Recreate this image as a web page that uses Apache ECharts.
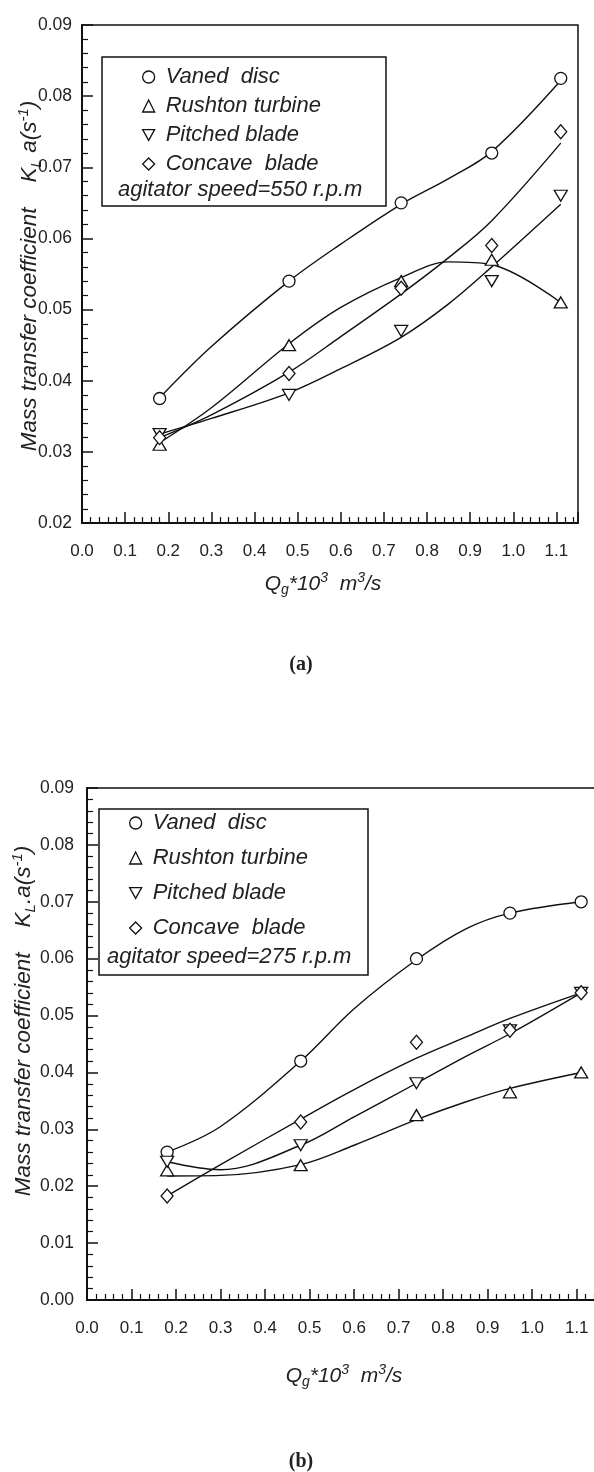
<!DOCTYPE html>
<html><head><meta charset="utf-8">
<script src="https://cdn.jsdelivr.net/npm/echarts/dist/echarts.min.js"></script>
<style>html,body{margin:0;padding:0;background:#fff}#c{width:594px;height:1472px}</style>
</head><body><div id="c"></div>
<script>
// ---- data (x: gas flow rate Qg*10^3 m3/s) ----
const qg = [0.18, 0.48, 0.74, 0.95, 1.11];
const seriesNames = ['Vaned  disc', 'Rushton turbine', 'Pitched blade', 'Concave  blade'];

// (a) 550 rpm, measured points
const topVaned   = [0.0375, 0.054, 0.065, 0.072, 0.0825];
const topRushton = [0.031, 0.045, 0.054, 0.057, 0.051];
const topPitched = [0.0325, 0.038, 0.047, 0.054, 0.066];
const topConcave = [0.032, 0.041, 0.053, 0.059, 0.075];

// (b) 275 rpm, measured points
const botVaned   = [0.026, 0.042, 0.060, 0.068, 0.070];
const botRushton = [0.0228, 0.0237, 0.0325, 0.0365, 0.040];
const botPitched = [0.0243, 0.0272, 0.0381, 0.0474, 0.054];
const botConcave = [0.0183, 0.0313, 0.0453, 0.0474, 0.054];

// fitted curves
const curveX = [0.18, 0.3, 0.48, 0.6, 0.74, 0.85, 0.95, 1.11];
const topFitVaned   = [0.0376, 0.0448, 0.0540, 0.0592, 0.0648, 0.0684, 0.0722, 0.0822];
const topFitRushton = [0.0313, 0.0362, 0.0452, 0.0503, 0.0545, 0.0567, 0.0563, 0.0510];
const topFitPitched = [0.0325, 0.0347, 0.0383, 0.0417, 0.0461, 0.0508, 0.0560, 0.0648];
const topFitConcave = [0.0320, 0.0352, 0.0412, 0.0462, 0.0522, 0.0573, 0.0625, 0.0734];
const botFitVaned   = [0.0260, 0.0305, 0.0420, 0.0512, 0.0598, 0.0652, 0.0680, 0.0700];
const botFitRushton = [0.0218, 0.0219, 0.0238, 0.0272, 0.0317, 0.0348, 0.0372, 0.0400];
const botFitPitched = [0.0243, 0.0229, 0.0272, 0.0322, 0.0381, 0.0428, 0.0468, 0.0540];
const botFitConcave = [0.0183, 0.0238, 0.0318, 0.0370, 0.0425, 0.0462, 0.0495, 0.0540];

const speedTop = 'agitator speed=550 r.p.m';
const speedBot = 'agitator speed=275 r.p.m';

// ---- styling ----
const INK = '#111', TXT = '#222', FONT = '"Liberation Sans", Arial, sans-serif';
const symbols = ['circle', 'triangle', 'path://M0,0 L10,0 L5,9 Z', 'diamond'];
const symSizes = [[12, 12], [13, 11], [13, 11], [12, 14]];
const pairs = (xs, ys) => xs.map((x, i) => [x, ys[i]]);

function xAxisCfg(gi, margin) {
  return {
    type: 'value', gridIndex: gi, min: 0, max: 1.15, interval: 0.1,
    axisLine: { show: true, onZero: false, lineStyle: { color: INK, width: 2 } },
    axisTick: { show: true, inside: true, length: 11, lineStyle: { color: INK, width: 1.5 } },
    minorTick: { show: true, splitNumber: 5, length: 6, lineStyle: { color: INK, width: 1.2 } },
    splitLine: { show: false }, minorSplitLine: { show: false },
    axisLabel: { margin, fontSize: 17, color: TXT, fontFamily: FONT, showMaxLabel: false,
      formatter: v => v.toFixed(1) }
  };
}
function yAxisCfg(gi, min, margin) {
  return {
    type: 'value', gridIndex: gi, min, max: 0.09, interval: 0.01,
    axisLine: { show: true, onZero: false, lineStyle: { color: INK, width: 2 } },
    axisTick: { show: true, inside: true, length: 11, lineStyle: { color: INK, width: 1.5 } },
    minorTick: { show: true, splitNumber: 5, length: 6, lineStyle: { color: INK, width: 1.2 } },
    splitLine: { show: false }, minorSplitLine: { show: false },
    axisLabel: { margin, fontSize: 17.5, color: TXT, fontFamily: FONT,
      formatter: v => v.toFixed(2) }
  };
}

const series = [];
function addPanel(gi, pts, fits) {
  fits.forEach((f, k) => series.push({
    type: 'line', xAxisIndex: gi, yAxisIndex: gi, data: pairs(curveX, f),
    smooth: 0.35, showSymbol: false, silent: true, z: 2,
    lineStyle: { color: INK, width: 1.4 }
  }));
  pts.forEach((p, k) => series.push({
    type: 'scatter', name: seriesNames[k], xAxisIndex: gi, yAxisIndex: gi,
    data: pairs(qg, p), symbol: symbols[k], symbolSize: symSizes[k], z: 3,
    itemStyle: { color: '#fff', borderColor: INK, borderWidth: 1.3, opacity: 1 }
  }));
}
addPanel(0, [topVaned, topRushton, topPitched, topConcave],
            [topFitVaned, topFitRushton, topFitPitched, topFitConcave]);
addPanel(1, [botVaned, botRushton, botPitched, botConcave],
            [botFitVaned, botFitRushton, botFitPitched, botFitConcave]);

const RICH = {
  n: { fontSize: 22.5, fontStyle: 'italic', fontFamily: FONT, lineHeight: 28, fill: TXT },
  sub: { fontSize: 15, fontStyle: 'italic', fontFamily: FONT, verticalAlign: 'bottom', fill: TXT },
  sup: { fontSize: 15, fontStyle: 'italic', fontFamily: FONT, verticalAlign: 'top', fill: TXT }
};
const RICHX = {
  n: { fontSize: 21, fontStyle: 'italic', fontFamily: FONT, lineHeight: 26, fill: TXT },
  sub: { fontSize: 14, fontStyle: 'italic', fontFamily: FONT, verticalAlign: 'bottom', fill: TXT },
  sup: { fontSize: 14, fontStyle: 'italic', fontFamily: FONT, verticalAlign: 'top', fill: TXT }
};
function title(x, y, text, rot, rich) {
  return { type: 'text', x, y, rotation: rot || 0, z: 10,
    style: { text, rich: rich, fill: TXT, align: 'center', verticalAlign: 'middle',
      font: 'italic 21px ' + FONT } };
}
const xTitle = '{n|Q}{sub|g}{n|*10}{sup|3}{n|  m}{sup|3}{n|/s}';
const yTitleTop = '{n|Mass transfer coefficient    K}{sub|L}{n| a(s}{sup|-1}{n|)}';
const yTitleBot = '{n|Mass transfer coefficient    K}{sub|L}{n|.a(s}{sup|-1}{n|)}';

function legendCfg(left, top, gap) {
  return {
    orient: 'vertical', left, top, padding: 0, itemGap: gap, itemWidth: 12, itemHeight: 12,
    data: seriesNames, selectedMode: false,
    itemStyle: { color: '#fff', borderColor: INK, borderWidth: 1.3 },
    textStyle: { fontFamily: FONT, fontStyle: 'italic', fontSize: 22, color: TXT,
      lineHeight: 20, padding: [0, 0, 0, 6] }
  };
}

const option = {
  animation: false,
  backgroundColor: '#fff',
  grid: [
    { left: 82, top: 25, width: 496, height: 498, show: true, borderColor: INK, borderWidth: 1.5,
      backgroundColor: 'transparent', outerBoundsMode: 'none', containLabel: false },
    { left: 87, top: 788, width: 512, height: 512, show: true, borderColor: INK, borderWidth: 1.5,
      backgroundColor: 'transparent', outerBoundsMode: 'none', containLabel: false }
  ],
  xAxis: [xAxisCfg(0, 20), xAxisCfg(1, 20)],
  yAxis: [yAxisCfg(0, 0.02, 10), yAxisCfg(1, 0, 13)],
  legend: [legendCfg(142, 66, 7), legendCfg(129, 812, 13)],
  series,
  graphic: [
    { type: 'rect', z: 1, shape: { x: 102, y: 57, width: 284, height: 149 },
      style: { fill: 'transparent', stroke: INK, lineWidth: 1.5 } },
    { type: 'rect', z: 1, shape: { x: 99, y: 809, width: 269, height: 166 },
      style: { fill: 'transparent', stroke: INK, lineWidth: 1.5 } },
    { type: 'text', x: 118, y: 190, z: 10, style: { text: speedTop, fill: TXT,
      font: 'italic 22px ' + FONT, align: 'left', verticalAlign: 'middle' } },
    { type: 'text', x: 107, y: 957, z: 10, style: { text: speedBot, fill: TXT,
      font: 'italic 22px ' + FONT, align: 'left', verticalAlign: 'middle' } },
    title(323, 584, xTitle, 0, RICHX),
    title(344, 1376, xTitle, 0, RICHX),
    title(30, 276, yTitleTop, Math.PI / 2, RICH),
    title(24, 1021, yTitleBot, Math.PI / 2, RICH),
    { type: 'text', x: 301, y: 665, style: { text: '(a)', fill: TXT,
      font: 'bold 20px "Liberation Serif", serif', align: 'center', verticalAlign: 'middle' } },
    { type: 'text', x: 301, y: 1462, style: { text: '(b)', fill: TXT,
      font: 'bold 20px "Liberation Serif", serif', align: 'center', verticalAlign: 'middle' } }
  ]
};
const chart = echarts.init(document.getElementById('c'), null, { renderer: 'canvas' });
chart.setOption(option);
</script></body></html>
